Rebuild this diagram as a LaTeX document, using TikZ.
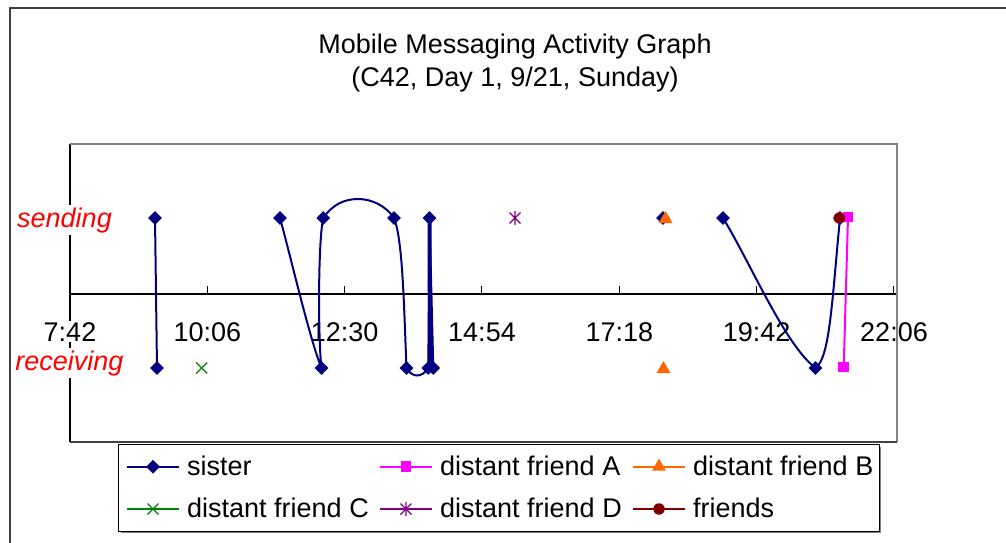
\documentclass[tikz,border=0pt]{standalone}
\usepackage{fontspec}
\setmainfont{Liberation Sans}
\usetikzlibrary{shapes.geometric,calc}
\definecolor{navy}{HTML}{000080}
\definecolor{dfA}{HTML}{FF00FF}
\definecolor{dfB}{HTML}{FF6600}
\definecolor{dfC}{HTML}{008000}
\definecolor{dfD}{HTML}{800080}
\definecolor{frd}{HTML}{800000}
\definecolor{plotgray}{HTML}{808080}
\definecolor{framegray}{HTML}{404040}
\tikzset{
  txt/.style={font=\fontsize{27}{32}\selectfont, inner sep=0pt, anchor=base},
  ylab/.style={font=\fontsize{27}{32}\selectfont\itshape, text=red, fill=white, inner sep=2pt, anchor=base},
  ticklab/.style={font=\fontsize{27}{32}\selectfont, fill=white, inner sep=1pt, anchor=base},
  sisln/.style={draw=navy, line width=2pt},
  aln/.style={draw=dfA, line width=2pt},
  sispt/.style={shape=diamond, fill=navy, inner sep=0pt, minimum width=14pt, minimum height=14pt},
  apt/.style={shape=rectangle, fill=dfA, inner sep=0pt, minimum size=10.5pt},
  bpt/.style={shape=regular polygon, regular polygon sides=3, fill=dfB, inner sep=0pt, minimum size=16pt},
  fpt/.style={shape=circle, fill=frd, inner sep=0pt, minimum size=11.5pt},
  xpic/.pic={\draw[dfC, line width=1.3pt] (-5.5,-5.5)--(5.5,5.5) (-5.5,5.5)--(5.5,-5.5);},
  astpic/.pic={\draw[dfD, line width=1.3pt] (-5.5,-5.5)--(5.5,5.5) (-5.5,5.5)--(5.5,-5.5) (0,-7)--(0,7);},
  legln/.style={line width=2pt}
}
\begin{document}
\begin{tikzpicture}[x=1pt,y=-1pt]
\useasboundingbox (0,0) rectangle (1006,543);
\fill[white] (0,0) rectangle (1006,543);
% outer chart frame (cropped)
\draw[framegray, line width=1.3pt] (10,543) -- (10,8) -- (1006,8);
% title
\node[txt] (title1) at (515,53) {Mobile Messaging Activity Graph};
\node[txt] (title2) at (515,86) {(C42, Day 1, 9/21, Sunday)};
% plot area
\draw[black, line width=1.2pt] (70,144) -- (70,442);
\draw[black, line width=1.2pt] (70,294) -- (897,294);
\foreach \k in {1,...,6} {
  \draw[black, line width=1pt] ({70+\k*137.33},294) -- ({70+\k*137.33},286);
}
% labels
\node[ylab] (sendlab) at (64.5,227) {sending};
\node[ylab] (recvlab) at (69.5,370) {receiving};
\node[ticklab] (t0) at (70,341) {7:42};
\node[ticklab] (t1) at (207.3,341) {10:06};
\node[ticklab] (t2) at (344.7,341) {12:30};
\node[ticklab] (t3) at (482,341) {14:54};
\node[ticklab] (t4) at (619.3,341) {17:18};
\node[ticklab] (t5) at (756.7,341) {19:42};
\node[ticklab] (t6) at (894,341) {22:06};
\draw[plotgray, line width=1.3pt] (70,144) -- (897,144) -- (897,442);
\draw[framegray, line width=1.3pt] (70,442) -- (897,442);
% data coordinates
\coordinate (s1) at (155,218);   \coordinate (r1) at (157,368);
\coordinate (s2) at (280,218);   \coordinate (r2) at (321.5,368);
\coordinate (s3) at (323.3,218); \coordinate (s4) at (394,218);
\coordinate (r3) at (406.5,368); \coordinate (r4) at (428.3,368);
\coordinate (s5) at (429.5,218); \coordinate (r5) at (433.3,368);
\coordinate (r45) at (430,368);
\coordinate (s6) at (663,218);
\coordinate (s7) at (723,218);   \coordinate (r6) at (815.5,368);
\coordinate (s8) at (840,218);
\coordinate (aS) at (848,217);   \coordinate (aR) at (843.7,367);
\coordinate (bS) at (665.5,219); \coordinate (bR) at (663.5,369);
\coordinate (cR) at (201.7,368);
\coordinate (dS) at (515,218);
\coordinate (fS) at (839.3,218);
% sister
\draw[sisln] (s1) -- (r1);
\draw[sisln] (s2) .. controls (292,262) and (310,340) .. (r2)
  .. controls (318,340) and (318,240) .. (s3)
  .. controls (332,205) and (344,199) .. (358,199)
  .. controls (372,199) and (386,206) .. (s4)
  .. controls (403,240) and (404,310) .. (r3)
  .. controls (412,378) and (422,378) .. (r4);
\draw[sisln] (r4) -- (s5) -- (r5);
\draw[sisln, line width=4pt] (s5) -- (r45);
\draw[sisln] (s7) .. controls (750,262) and (785,345) .. (r6)
  .. controls (830,358) and (832,300) .. (s8);
\foreach \p in {s1,r1,s2,r2,s3,s4,r3,r4,s5,r5,s6,s7,r6,s8} {
  \node[sispt] (m\p) at (\p) {};
}
% distant friend A
\draw[aln] (aS) -- (aR);
\node[apt] (maS) at (aS) {};
\node[apt] (maR) at (aR) {};
% distant friend B
\node[bpt] (mbS) at (bS) {};
\node[bpt] (mbR) at (bR) {};
% distant friend C
\pic at (cR) {xpic};
% distant friend D
\pic at (dS) {astpic};
% friends
\node[fpt] (mfS) at (fS) {};
% legend
\fill[plotgray] (120.5,446.5) rectangle (881,533);
\draw[black, fill=white, line width=1pt] (118,444) rectangle (879,531);
\coordinate (l1a) at (127,466.7); \coordinate (l1b) at (179,466.7);
\coordinate (l2a) at (380,466.7); \coordinate (l2b) at (432,466.7);
\coordinate (l3a) at (633,466.7); \coordinate (l3b) at (685,466.7);
\coordinate (l4a) at (127,509);   \coordinate (l4b) at (179,509);
\coordinate (l5a) at (380,509);   \coordinate (l5b) at (432,509);
\coordinate (l6a) at (633,509);   \coordinate (l6b) at (685,509);
\draw[legln, navy] (l1a) -- (l1b);
\node[sispt] (lg1) at ($(l1a)!0.5!(l1b)$) {};
\draw[legln, dfA] (l2a) -- (l2b);
\node[apt] (lg2) at ($(l2a)!0.5!(l2b)$) {};
\draw[legln, dfB] (l3a) -- (l3b);
\node[bpt] (lg3) at ($(l3a)!0.5!(l3b)$) {};
\draw[legln, dfC] (l4a) -- (l4b);
\pic at ($(l4a)!0.5!(l4b)$) {xpic};
\draw[legln, dfD] (l5a) -- (l5b);
\pic at ($(l5a)!0.5!(l5b)$) {astpic};
\draw[legln, frd] (l6a) -- (l6b);
\node[fpt] (lg6) at ($(l6a)!0.5!(l6b)$) {};
\node[txt, anchor=base west] (lt1) at (187,475) {sister};
\node[txt, anchor=base west] (lt2) at (440,475) {distant friend A};
\node[txt, anchor=base west] (lt3) at (693,475) {distant friend B};
\node[txt, anchor=base west] (lt4) at (187,517.5) {distant friend C};
\node[txt, anchor=base west] (lt5) at (440,517.5) {distant friend D};
\node[txt, anchor=base west] (lt6) at (693,517.5) {friends};
\end{tikzpicture}
\end{document}
